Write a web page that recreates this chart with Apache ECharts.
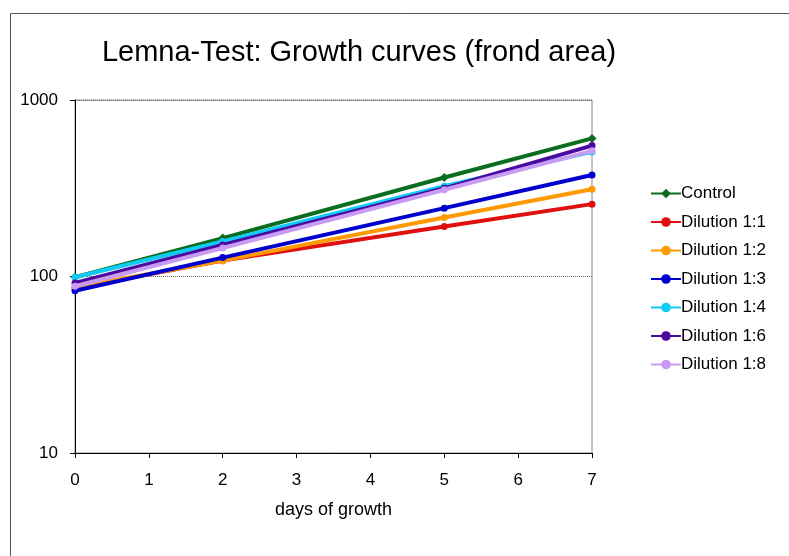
<!DOCTYPE html>
<html><head><meta charset="utf-8">
<script src="https://cdn.jsdelivr.net/npm/echarts@6/dist/echarts.min.js"></script>
<style>html,body{margin:0;padding:0;background:#fff}#c{width:789px;height:556px}</style>
</head><body><div id="c"></div>
<script>
const days = [0, 2, 5, 7];
const seriesNames = ["Control","Dilution 1:1","Dilution 1:2","Dilution 1:3","Dilution 1:4","Dilution 1:6","Dilution 1:8"];
const control = [99, 165, 364, 606];
const dil11 = [86, 123, 192, 257];
const dil12 = [87, 123, 216, 312];
const dil13 = [83, 128, 244, 376];
const dil14 = [99, 158, 325, 508];
const dil16 = [92, 151, 316, 552];
const dil18 = [88, 145, 310, 515];
const xTicks = [0,1,2,3,4,5,6,7];
const yTicks = [10, 100, 1000];
const colors = ["#0A6E1E","#E01010","#FF9900","#0000CC","#10CCF5","#4A0AA0","#C89BF5"];
const symbols = ["diamond","circle","circle","circle","circle","circle","circle"];
const allData = [control, dil11, dil12, dil13, dil14, dil16, dil18];

const chart = echarts.init(document.getElementById('c'), null, {renderer:'canvas'});
const font = 'Liberation Sans, Arial, sans-serif';
chart.setOption({
  animation: false,
  backgroundColor: '#fff',
  title: {
    text: 'Lemna-Test: Growth curves (frond area)',
    left: 354, textAlign: 'center', top: 33,
    textStyle: {fontFamily: font, fontWeight: 'normal', fontSize: 29, color: '#000'}
  },
  graphic: [{
    type: 'rect', shape: {x: 10.5, y: 13.5, width: 800, height: 600},
    style: {fill: 'none', stroke: '#555', lineWidth: 1}, silent: true
  }],
  legend: {
    orient: 'vertical', left: 645, top: 180,
    itemWidth: 30, itemHeight: 12, itemGap: 11.5,
    textStyle: {fontFamily: font, fontSize: 17, color: '#000', padding: [0,0,0,-5]},
    data: seriesNames
  },
  grid: {left: 75, right: 197, top: 100, bottom: 103, show: true, borderColor: '#888', borderWidth: 1},
  xAxis: {
    type: 'value', min: 0, max: 7, interval: 1,
    name: 'days of growth', nameLocation: 'middle', nameGap: 48,
    nameTextStyle: {fontFamily: font, fontSize: 18, color: '#000'},
    axisLine: {lineStyle: {color: '#000', width: 1}},
    axisTick: {show: true, length: 5, lineStyle: {color: '#000'}},
    axisLabel: {fontFamily: font, fontSize: 17, color: '#000', margin: 19,
      formatter: v => xTicks.includes(v) ? String(v) : ''},
    splitLine: {show: false}
  },
  yAxis: {
    type: 'log', logBase: 10, min: 10, max: 1000,
    axisLine: {show: true, lineStyle: {color: '#000', width: 1}},
    axisTick: {show: true, length: 5, lineStyle: {color: '#000'}},
    axisLabel: {fontFamily: font, fontSize: 17, color: '#000', margin: 17,
      formatter: v => yTicks.includes(Math.round(v)) ? String(Math.round(v)) : ''},
    splitLine: {show: true, lineStyle: {color: '#666', width: 1, type: [1,1]}}
  },
  series: seriesNames.map((n, i) => ({
    name: n, type: 'line',
    data: days.map((d, j) => [d, allData[i][j]]),
    symbol: symbols[i], symbolSize: i === 0 ? 9 : 7,
    showAllSymbol: true,
    lineStyle: {color: colors[i], width: 4},
    itemStyle: {color: colors[i]},
    z: 2 + i
  }))
});
</script></body></html>
